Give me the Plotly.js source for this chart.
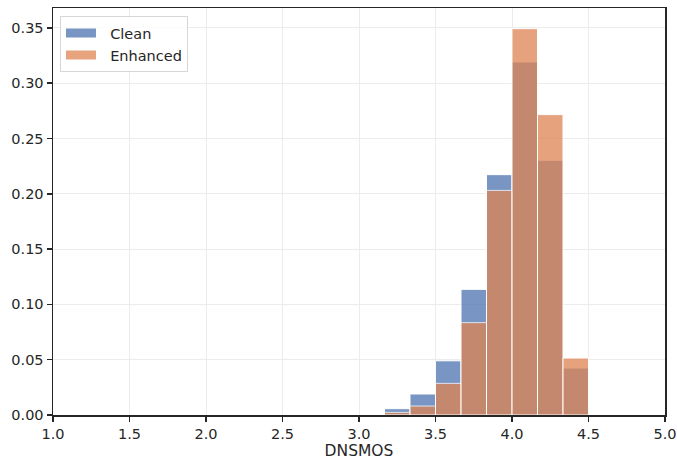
<!DOCTYPE html>
<html><head><meta charset="utf-8">
<script src="https://cdn.plot.ly/plotly-3.0.1.min.js"></script>
<style>html,body{margin:0;padding:0;background:#fff}</style>
</head><body>
<div id="chart" style="width:677px;height:460px"></div>
<script>
const binStart = [3.1667, 3.3333, 3.5, 3.6667, 3.8333, 4.0, 4.1667, 4.3333];
const binWidth = 1/6;
const cleanVals = [0.0057, 0.019, 0.049, 0.1136, 0.2173, 0.3192, 0.2303, 0.0425];
const enhancedVals = [0.0024, 0.0081, 0.0286, 0.0835, 0.2031, 0.3493, 0.2716, 0.0515];
const seriesNames = ['Clean', 'Enhanced'];
const xTicks = [1.0, 1.5, 2.0, 2.5, 3.0, 3.5, 4.0, 4.5, 5.0];
const yTicks = [0, 0.05, 0.10, 0.15, 0.20, 0.25, 0.30, 0.35];

const centers = binStart.map(s => s + binWidth/2);
const mk = (name, vals, color) => ({
  type: 'bar', name: name, x: centers, y: vals, width: binWidth,
  marker: {color: color, opacity: 0.75, line: {color: '#ffffff', width: 1}},
  showlegend: false, hoverinfo: 'x+y'
});
const lg = (name, color) => ({
  type: 'scatter', mode: 'lines', name: '\u00a0\u00a0' + name, x: [null], y: [null],
  line: {color: color, width: 9}, showlegend: true, hoverinfo: 'skip'
});
const data = [
  mk(seriesNames[0], cleanVals, '#4C72B0'),
  mk(seriesNames[1], enhancedVals, '#DD8452'),
  lg(seriesNames[0], 'rgba(76,114,176,0.75)'),
  lg(seriesNames[1], 'rgba(221,132,82,0.75)')
];
const axisCommon = {
  showline: true, mirror: true, linecolor: '#262626', linewidth: 1.5,
  ticks: 'outside', ticklen: 5, tickwidth: 1.5, tickcolor: '#262626',
  showgrid: true, gridcolor: '#ececec', gridwidth: 1, zeroline: false,
  tickfont: {family: 'DejaVu Sans', size: 14.5, color: '#262626'}
};
const layout = {
  width: 677, height: 460,
  margin: {l: 53, r: 12, t: 8, b: 45},
  paper_bgcolor: '#fff', plot_bgcolor: '#fff',
  barmode: 'overlay', bargap: 0,
  font: {family: 'DejaVu Sans', color: '#262626'},
  xaxis: Object.assign({}, axisCommon, {
    range: [1, 5], tickvals: xTicks, ticktext: xTicks.map(v => v.toFixed(1)),
    title: {text: 'DNSMOS', font: {family: 'DejaVu Sans', size: 15.5, color: '#262626'}, standoff: 5}
  }),
  yaxis: Object.assign({}, axisCommon, {
    range: [0, 0.368], tickvals: yTicks, ticktext: yTicks.map(v => v.toFixed(2))
  }),
  legend: {
    x: 0.0114, y: 0.98, xanchor: 'left', yanchor: 'top',
    bgcolor: 'rgba(255,255,255,0.8)', bordercolor: '#d6d6d6', borderwidth: 1,
    font: {family: 'DejaVu Sans', size: 14.5, color: '#262626'},
    traceorder: 'normal'
  },
  showlegend: true
};
Plotly.newPlot('chart', data, layout, {displayModeBar: false, staticPlot: true});
</script>
</body></html>
